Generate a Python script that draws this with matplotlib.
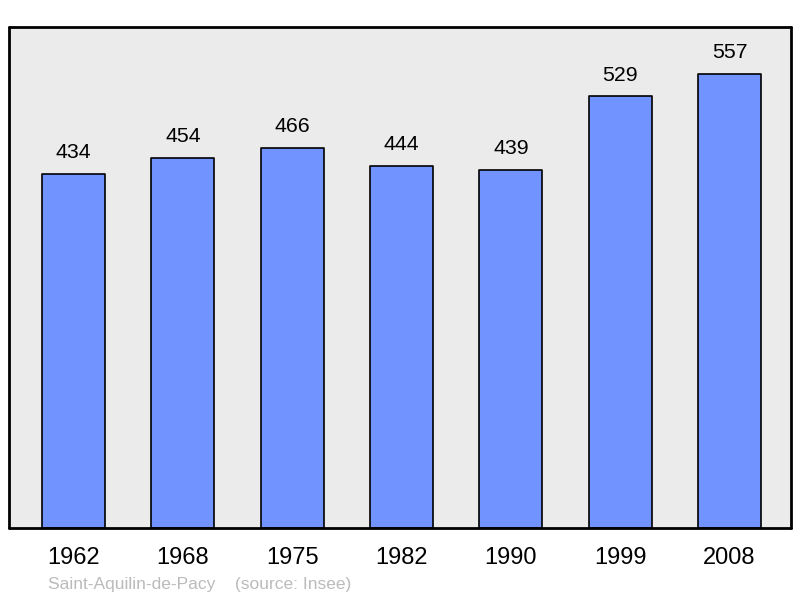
import matplotlib

matplotlib.use("Agg")
import matplotlib.pyplot as plt

years = ["1962", "1968", "1975", "1982", "1990", "1999", "2008"]
population = [434, 454, 466, 444, 439, 529, 557]
commune = "Saint-Aquilin-de-Pacy"
source = "(source: Insee)"

plt.rcParams["font.family"] = ["Liberation Sans", "DejaVu Sans"]

fig = plt.figure(figsize=(8, 5.98), dpi=100)
ax = fig.add_axes([9 / 800, 70 / 598, 782 / 800, 501 / 598])
ax.set_facecolor("#ebebeb")

x = list(range(len(years)))
ax.bar(x, population, width=0.576, color="#7093ff", edgecolor="black",
       linewidth=1.2, joinstyle="round", zorder=2)
for xi, v in zip(x, population):
    ax.annotate(str(v), (xi, v), xytext=(0, 8.5), textcoords="offset points",
                ha="center", va="bottom", fontsize=15.3)

ax.set_xlim(-0.59, 6.5625)
ax.set_ylim(0, 614)
ax.set_yticks([])
ax.set_xticks(x)
ax.set_xticklabels(years, fontsize=17)
ax.tick_params(axis="x", length=0, pad=14)
for s in ax.spines.values():
    s.set_linewidth(2)
    s.set_capstyle("round")

fig.text(48 / 800, 1 - 584 / 598, commune + "    " + source, fontsize=12.5,
         color="#bbbbbb", ha="left", va="center")

fig.savefig("out.png", dpi=100)
